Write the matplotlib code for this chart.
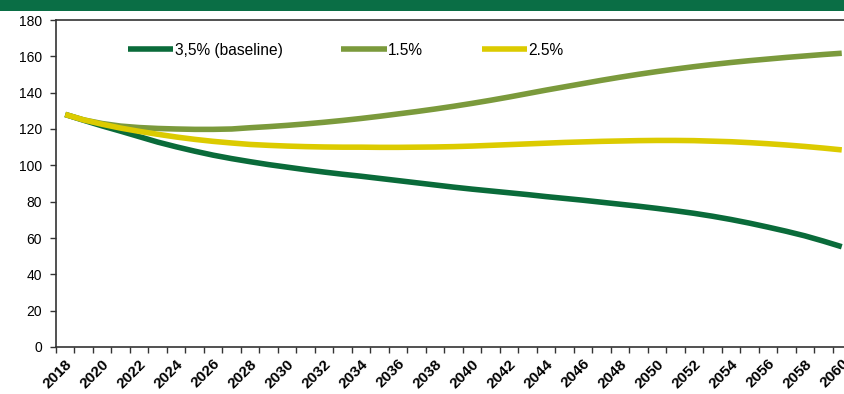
import matplotlib
matplotlib.use("Agg")
import matplotlib.pyplot as plt
from matplotlib.patches import Rectangle
from matplotlib.ticker import FixedLocator, NullFormatter

plt.rcParams['font.family'] = ['Liberation Sans', 'DejaVu Sans']

years = list(range(2018, 2061))

baseline_35 = [128.0, 124.8, 121.7, 118.8, 115.8, 112.8, 110.2, 107.8, 105.6, 103.7,
               102.0, 100.4, 99.0, 97.6, 96.3, 95.1, 94.0, 92.8, 91.6, 90.4,
               89.2, 88.0, 86.9, 85.9, 84.9, 83.9, 82.8, 81.8, 80.8, 79.7,
               78.6, 77.5, 76.3, 75.0, 73.6, 72.0, 70.2, 68.2, 66.0, 63.7,
               61.2, 58.3, 55.2]

rate_15 = [128.0, 125.0, 123.0, 121.6, 120.8, 120.3, 120.0, 119.8, 119.8, 120.0,
           120.7, 121.3, 122.0, 122.8, 123.7, 124.7, 125.8, 127.0, 128.3, 129.6,
           131.0, 132.5, 134.1, 135.8, 137.6, 139.5, 141.4, 143.2, 145.0, 146.8,
           148.5, 150.1, 151.6, 153.0, 154.3, 155.5, 156.6, 157.6, 158.5, 159.4,
           160.2, 161.0, 161.7]

rate_25 = [128.0, 125.0, 122.6, 120.5, 118.7, 117.1, 115.6, 114.3, 113.2, 112.3,
           111.5, 111.0, 110.6, 110.3, 110.1, 110.0, 110.0, 109.9, 109.9, 110.0,
           110.1, 110.3, 110.6, 111.0, 111.4, 111.8, 112.2, 112.6, 112.9, 113.2,
           113.4, 113.6, 113.7, 113.7, 113.6, 113.3, 113.0, 112.5, 111.9, 111.2,
           110.4, 109.5, 108.5]

series_labels = ["3,5% (baseline)", "1.5%", "2.5%"]
series_colors = ["#0a6b3a", "#7b9a3c", "#dccb00"]

y_ticks = list(range(0, 181, 20))
x_label_years = list(range(2018, 2061, 2))

W, H, DPI = 845, 394, 100
fig = plt.figure(figsize=(W / DPI, H / DPI), dpi=DPI)
fig.patch.set_facecolor("white")

# green header band
fig.patches.append(Rectangle((0, 1 - 11 / H), 1, 11 / H, transform=fig.transFigure,
                             facecolor="#0a6e45", edgecolor="none"))

left_px, right_px, top_px, bottom_px = 56, 851, 20, 347
ax = fig.add_axes([left_px / W, (H - bottom_px) / H,
                   (right_px - left_px) / W, (bottom_px - top_px) / H])

for vals, lab, col in zip([baseline_35, rate_15, rate_25], series_labels, series_colors):
    ax.plot(years, vals, color=col, lw=4.0, label=lab, solid_capstyle="butt", zorder=3)

ax.set_xlim(2017.5, 2060.5)
ax.set_ylim(0, 180)

ax.set_yticks(y_ticks)
ax.set_yticklabels([str(v) for v in y_ticks], fontsize=10)
ax.tick_params(axis="y", direction="out", length=4, width=1, color="#333333", pad=6)

ax.xaxis.set_major_locator(FixedLocator(x_label_years))
ax.set_xticklabels([str(y) for y in x_label_years], rotation=45, ha="right",
                   va="top", rotation_mode="anchor", fontsize=11, fontweight="bold")
ax.tick_params(axis="x", which="major", length=0, pad=7)
ax.xaxis.set_minor_locator(FixedLocator([y + 0.5 for y in range(2017, 2061)]))
ax.xaxis.set_minor_formatter(NullFormatter())
ax.tick_params(axis="x", which="minor", direction="out", length=4, width=1, color="#333333")

for side in ["left", "bottom", "top"]:
    ax.spines[side].set_color("#333333")
    ax.spines[side].set_linewidth(1.2)
ax.spines["right"].set_visible(False)

ax.legend(loc="upper left", bbox_to_anchor=(0.083, 0.95), ncol=3, frameon=False,
          fontsize=11.2, handlelength=2.9, handletextpad=0.12, columnspacing=3.75,
          borderaxespad=0)

fig.savefig("out.png", dpi=DPI)
